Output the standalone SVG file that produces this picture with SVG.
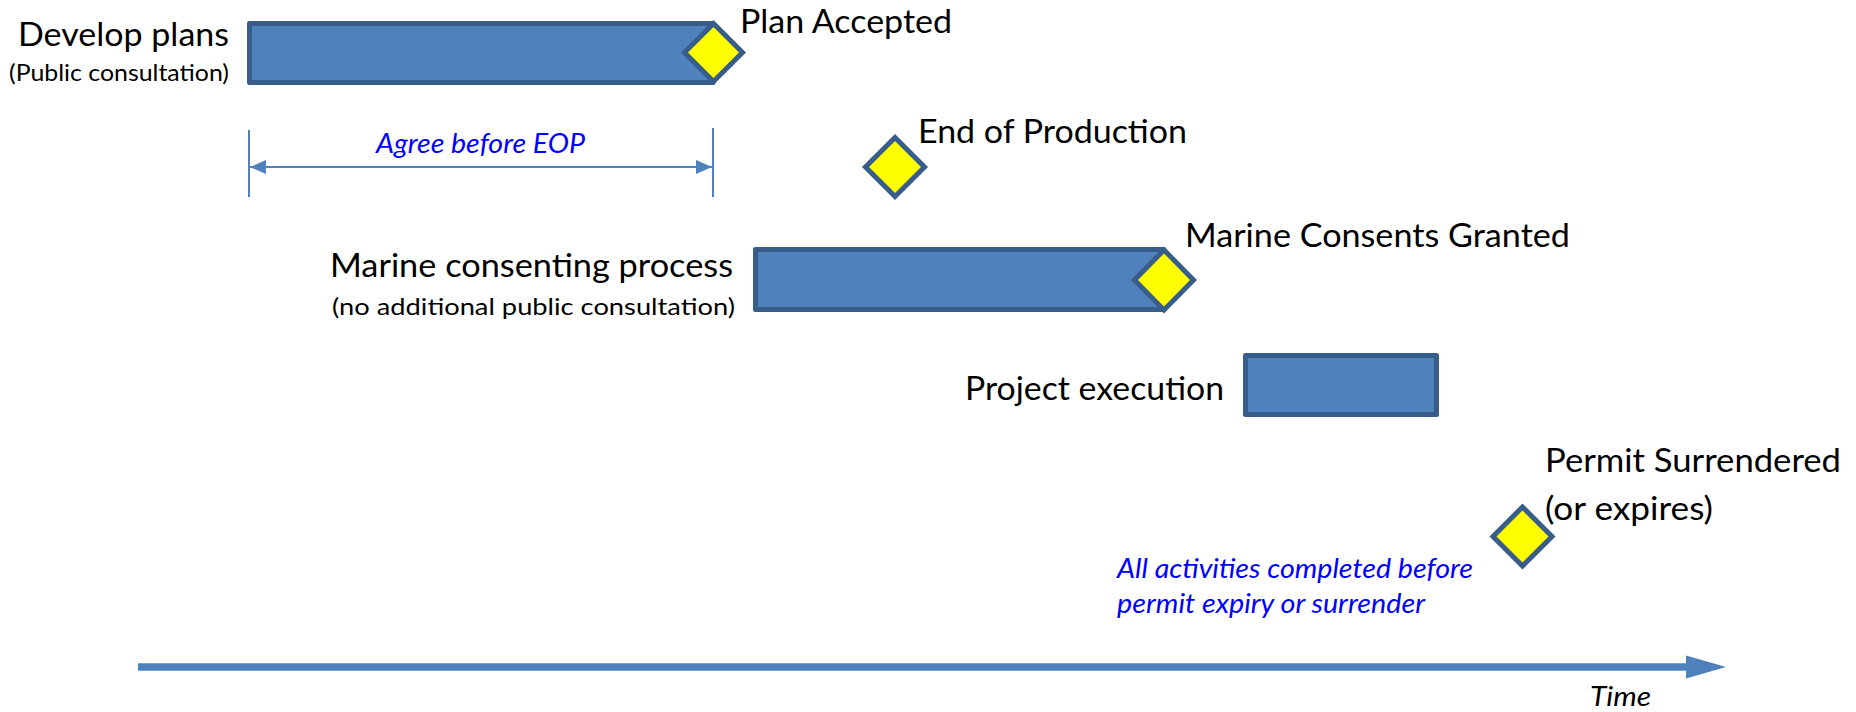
<svg xmlns="http://www.w3.org/2000/svg" width="1856" height="712" viewBox="0 0 1856 712">
<style>
.bar{fill:#4F81BD;stroke:#385D8A;stroke-width:5;stroke-linejoin:round}
.ms{fill:#FFFF00;stroke:#385D8A;stroke-width:5;stroke-linejoin:miter}
.lbl{font-family:Lato,"Open Sans","Liberation Sans",sans-serif;font-size:33px;fill:#000}
.sub{font-family:Lato,"Open Sans","Liberation Sans",sans-serif;font-size:24px;fill:#000}
.note{font-family:Lato,"Open Sans","Liberation Sans",sans-serif;font-size:26.5px;font-style:italic;fill:#0000FF}
.time{font-family:Lato,"Open Sans","Liberation Sans",sans-serif;font-size:26.5px;font-style:italic;fill:#000}
.dim{stroke:#4F81BD;stroke-width:2;fill:none}
</style>
<defs>
<marker id="ah" viewBox="0 0 16 14" refX="16" refY="7" markerWidth="16" markerHeight="14" markerUnits="userSpaceOnUse" orient="auto-start-reverse">
<path d="M0,0 L16,7 L0,14 Z" fill="#4F81BD"/>
</marker>
</defs>
<rect width="1856" height="712" fill="#FFFFFF"/>

<g id="develop-plans">
<rect class="bar" x="249.5" y="23.5" width="463.5" height="59"/>
<text class="lbl" x="18" y="46" textLength="211" lengthAdjust="spacingAndGlyphs">Develop plans</text>
<text class="sub" x="9" y="81" textLength="220" lengthAdjust="spacingAndGlyphs">(Public consultation)</text>
</g>

<g id="plan-accepted">
<path class="ms" d="M713.5,23.5 L742.5,52.5 L713.5,81.5 L684.5,52.5 Z"/>
<text class="lbl" x="740" y="33" textLength="212" lengthAdjust="spacingAndGlyphs">Plan Accepted</text>
</g>

<g id="end-of-production">
<path class="ms" d="M895,137.5 L924.5,167 L895,196.5 L865.5,167 Z"/>
<text class="lbl" x="918" y="143" textLength="269" lengthAdjust="spacingAndGlyphs">End of Production</text>
</g>

<g id="marine-consenting">
<rect class="bar" x="755.5" y="249.5" width="408.5" height="60"/>
<text class="lbl" x="330" y="277" textLength="403" lengthAdjust="spacingAndGlyphs">Marine consenting process</text>
<text class="sub" x="332" y="315" textLength="403" lengthAdjust="spacingAndGlyphs">(no additional public consultation)</text>
</g>

<g id="marine-consents-granted">
<path class="ms" d="M1164,250 L1193.5,280 L1164,310 L1134.5,280 Z"/>
<text class="lbl" x="1185" y="247" textLength="385" lengthAdjust="spacingAndGlyphs">Marine Consents Granted</text>
</g>

<g id="project-execution">
<rect class="bar" x="1245.5" y="355.5" width="191" height="59"/>
<text class="lbl" x="965" y="400" textLength="259" lengthAdjust="spacingAndGlyphs">Project execution</text>
</g>

<g id="permit-surrendered">
<path class="ms" d="M1522.5,507 L1552,536.5 L1522.5,566 L1493,536.5 Z"/>
<text class="lbl" x="1545" y="472" textLength="296" lengthAdjust="spacingAndGlyphs">Permit Surrendered</text>
<text class="lbl" x="1545" y="520" textLength="168" lengthAdjust="spacingAndGlyphs">(or expires)</text>
</g>

<g id="notes">
<text class="note" x="376" y="153" textLength="209" lengthAdjust="spacingAndGlyphs">Agree before EOP</text>
<text class="note" x="1117" y="578" textLength="356" lengthAdjust="spacingAndGlyphs">All activities completed before</text>
<text class="note" x="1117" y="613" textLength="308" lengthAdjust="spacingAndGlyphs">permit expiry or surrender</text>
<text class="time" x="1590" y="706" textLength="61" lengthAdjust="spacingAndGlyphs">Time</text>
</g>

<g id="connectors">
<line class="dim" x1="249" y1="130" x2="249" y2="197"/>
<line class="dim" x1="713" y1="128" x2="713" y2="197"/>
<line class="dim" x1="250" y1="167" x2="712" y2="167" marker-start="url(#ah)" marker-end="url(#ah)"/>
<line x1="138" y1="667" x2="1690" y2="667" stroke="#4F81BD" stroke-width="7.5"/>
<path d="M1686,655.5 L1726,667 L1686,678.5 Z" fill="#4F81BD"/>
</g>
</svg>
